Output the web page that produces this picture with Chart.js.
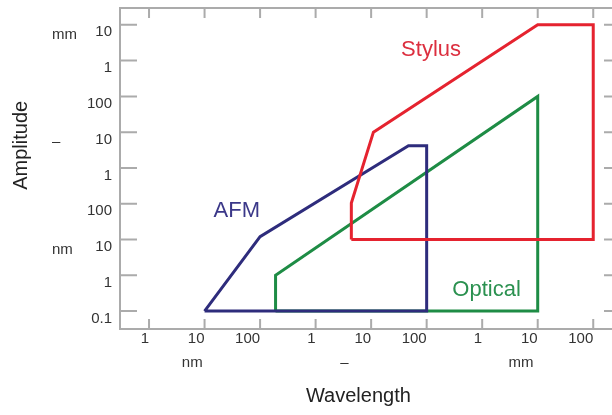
<!DOCTYPE html>
<html>
<head>
<meta charset="utf-8">
<script src="https://cdn.jsdelivr.net/npm/chart.js@4"></script>
<style>
body{margin:0;background:#fff;overflow:hidden;}
</style>
</head>
<body>
<canvas id="grafico" width="640" height="415"></canvas>
<script>
// Dados (tudo em nm)

const xTicks = [1,10,100,1e3,1e4,1e5,1e6,1e7,1e8];
const xLabels = ["1","10","100","1","10","100","1","10","100"];
const yTicks = [0.1,1,10,100,1e3,1e4,1e5,1e6,1e7];
const yLabels = ["0.1","1","10","100","1","10","100","1","10"];

const afmX = [10,100,47000,100000,100000,10];
const afmY = [0.1,12,4200,4200,0.1,0.1];
const opticalX = [190,190,1e7,1e7,190];
const opticalY = [0.1,1,1e5,0.1,0.1];
const stylusX = [4400,4400,11000,1e7,1e8,1e8,4400];
const stylusY = [10,105,1e4,1e7,1e7,10,10];

const fonte = "'Liberation Sans', Arial, sans-serif";
const cinza = "#ababab";
const texto = "#333";

function serie(nome, xs, ys, cor){
return {
label:nome,
data:xs.map((x,i)=>({x:x,y:ys[i]})),
showLine:true,
borderColor:cor,
borderWidth:3,
borderJoinStyle:"miter",
pointRadius:0,
fill:false,
tension:0
};
}

// Moldura, tracinhos e textos extras

const extras = {
id:"extras",
beforeDatasetsDraw(chart){
const {ctx, chartArea:a, scales:{x,y}} = chart;
ctx.save();
ctx.strokeStyle = cinza;
ctx.lineWidth = 2;
ctx.strokeRect(a.left,a.top,a.right-a.left,a.bottom-a.top);
ctx.beginPath();
xTicks.forEach(v=>{
const px = x.getPixelForValue(v);
ctx.moveTo(px,a.bottom); ctx.lineTo(px,a.bottom-10);
ctx.moveTo(px,a.top); ctx.lineTo(px,a.top+10);
});
yTicks.forEach(v=>{
const py = y.getPixelForValue(v);
ctx.moveTo(a.left,py); ctx.lineTo(a.left+17,py);
ctx.moveTo(a.right,py); ctx.lineTo(a.right-17,py);
});
ctx.stroke();
ctx.restore();
},
afterDatasetsDraw(chart){
const {ctx, chartArea:a, scales:{x,y}} = chart;
ctx.save();
ctx.textBaseline = "middle";

// unidades
ctx.font = "15px " + fonte;
ctx.fillStyle = texto;
ctx.textAlign = "center";
[[6,"nm"],[3300,"–"],[5e6,"mm"]].forEach(u=>{
ctx.fillText(u[1], x.getPixelForValue(u[0]), a.bottom+34);
});
ctx.textAlign = "left";
[[1e7,"mm"],[1e4,"–"],[10,"nm"]].forEach(u=>{
ctx.fillText(u[1], 52, y.getPixelForValue(u[0])+10);
});

// titulos dos eixos
ctx.font = "20px " + fonte;
ctx.fillStyle = "#222";
ctx.textAlign = "center";
ctx.fillText("Wavelength", x.getPixelForValue(5900), a.bottom+67);
ctx.translate(21, y.getPixelForValue(4300));
ctx.rotate(-Math.PI/2);
ctx.fillText("Amplitude", 0, 0);
ctx.restore();

// nomes das tecnicas
ctx.save();
ctx.font = "22px " + fonte;
ctx.textAlign = "center";
ctx.textBaseline = "middle";
ctx.fillStyle = "#3b3889";
ctx.fillText("AFM", x.getPixelForValue(38), y.getPixelForValue(63));
ctx.fillStyle = "#dc2f3f";
ctx.fillText("Stylus", x.getPixelForValue(1.2e5), y.getPixelForValue(2e6));
ctx.fillStyle = "#2b9150";
ctx.fillText("Optical", x.getPixelForValue(1.2e6), y.getPixelForValue(0.4));
ctx.restore();
}
};

// Gráfico

const ctx = document.getElementById("grafico");

new Chart(ctx,{
type:"scatter",
data:{
datasets:[
serie("Stylus", stylusX, stylusY, "#e5232f"),
serie("AFM", afmX, afmY, "#2e2c7c"),
serie("Optical", opticalX, opticalY, "#1e8c45")
]
},
options:{
responsive:false,
animation:false,
devicePixelRatio:1,
layout:{padding:{top:5,right:19,left:0,bottom:0}, autoPadding:false},
plugins:{
legend:{display:false},
tooltip:{enabled:false}
},
scales:{
x:{
type:"logarithmic",
min:Math.pow(10,-0.5),
max:Math.pow(10,8.5),
grid:{display:false, drawTicks:false},
border:{display:false},
afterBuildTicks:s=>{ s.ticks = xTicks.map(v=>({value:v})); },
afterFit:s=>{ s.height = 86; },
ticks:{
autoSkip:false,
maxRotation:0,
align:"end",
padding:1,
color:texto,
font:{family:fonte, size:15},
callback:(v,i)=>xLabels[i]
}
},
y:{
type:"logarithmic",
min:Math.pow(10,-1.5),
max:Math.pow(10,7.47),
grid:{display:false, drawTicks:false},
border:{display:false},
afterBuildTicks:s=>{ s.ticks = yTicks.map(v=>({value:v})); },
afterFit:s=>{ s.width = 120; },
ticks:{
autoSkip:false,
align:"start",
padding:8,
color:texto,
font:{family:fonte, size:15},
callback:(v,i)=>yLabels[i]
}
}
}
},
plugins:[extras]
});
</script>
</body>
</html>
